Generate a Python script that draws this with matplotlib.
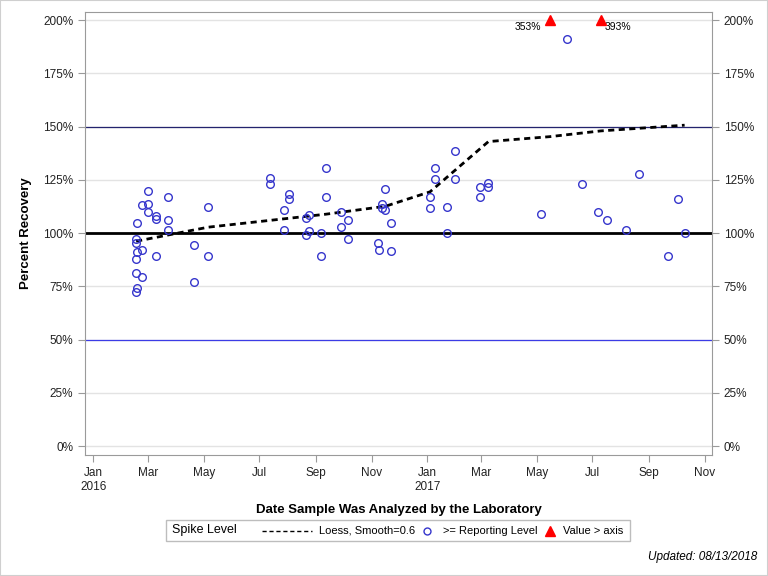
import matplotlib
matplotlib.use("Agg")
import matplotlib.pyplot as plt
import matplotlib.dates as mdates
from matplotlib.lines import Line2D
from matplotlib.patches import Rectangle
import numpy as np
import pandas as pd

plt.rcParams['font.family'] = ['Liberation Sans', 'DejaVu Sans']

# spike recoveries (date analyzed, percent)
sample_dates = [
    '2016-02-17', '2016-02-18', '2016-02-17', '2016-02-17', '2016-02-18', '2016-02-23',
    '2016-02-17', '2016-02-17', '2016-02-23', '2016-02-18', '2016-02-23', '2016-03-01',
    '2016-03-01', '2016-03-01', '2016-03-10', '2016-03-10', '2016-03-10', '2016-03-23',
    '2016-03-23', '2016-03-23', '2016-04-20', '2016-04-20', '2016-05-06', '2016-05-06',
    '2016-07-13', '2016-07-13', '2016-09-12', '2016-08-03', '2016-08-03', '2016-09-12',
    '2016-11-16', '2016-07-28', '2016-11-12', '2016-11-12', '2016-11-16', '2016-08-21',
    '2016-08-24', '2016-09-29', '2016-10-06', '2016-11-22', '2016-09-29', '2016-07-28',
    '2016-08-24', '2016-08-21', '2016-09-07', '2016-10-06', '2016-11-08', '2016-11-09',
    '2016-11-22', '2016-09-07',
    '2017-01-31', '2017-01-09', '2017-01-09', '2017-01-31', '2017-01-04', '2017-01-04',
    '2017-01-23', '2017-01-23', '2017-02-28', '2017-02-28', '2017-03-09', '2017-03-09',
    '2017-06-03', '2017-06-20', '2017-08-21', '2017-05-06', '2017-07-07', '2017-07-17',
    '2017-08-07', '2017-10-03', '2017-10-10', '2017-09-22',
]
recovery = [
    72.4, 74.2, 81.5, 87.7, 91.2, 92.0,
    95.2, 97.2, 79.3, 104.7, 113.1, 113.5,
    120.0, 109.7, 108.0, 106.7, 89.1, 117.2,
    106.4, 101.3, 94.2, 76.9, 112.5, 89.5,
    125.7, 122.9, 130.4, 118.3, 116.1, 116.8,
    120.5, 111.1, 113.5, 111.6, 110.7, 107.0,
    108.5, 109.7, 106.0, 104.6, 103.1, 101.3,
    100.9, 99.2, 100.3, 97.3, 95.6, 91.9,
    91.4, 89.5,
    138.4, 130.8, 125.2, 125.2, 116.8, 111.6,
    112.5, 99.9, 121.5, 116.8, 123.5, 121.5,
    191.4, 123.3, 127.6, 108.8, 109.7, 106.4,
    101.7, 115.8, 99.9, 89.3,
]

# values above the axis
over_dates = ['2017-05-15', '2017-07-10']
over_vals = [353, 393]

# loess smooth (smooth=0.6)
loess_dates = ['2016-02-17', '2016-05-06', '2016-09-12', '2016-11-16',
               '2017-01-04', '2017-03-09', '2017-05-15', '2017-07-10', '2017-10-10']
loess_vals = [96.2, 102.8, 108.9, 112.6, 119.4, 143.0, 145.3, 148.0, 150.7]

ref_levels = [100, 150, 50]
y_ticks = [0, 25, 50, 75, 100, 125, 150, 175, 200]

x_dates = pd.to_datetime(sample_dates)
o_dates = pd.to_datetime(over_dates)
l_dates = pd.to_datetime(loess_dates)

W, H = 768, 576
fig = plt.figure(figsize=(7.68, 5.76), dpi=100)
ax = fig.add_axes([0.1107, 0.210, 0.8164, 0.769])

for yt in y_ticks:
    ax.axhline(yt, color='#e3e3e3', lw=1, zorder=0)
ax.axhline(ref_levels[0], color='black', lw=2, zorder=1)
ax.axhline(ref_levels[1], color='#23236e', lw=0.9, zorder=1)
ax.axhline(ref_levels[2], color='#3c3ce6', lw=0.9, zorder=1)

ax.plot(l_dates, loess_vals, color='black', lw=2, ls=(0, (2.2, 1.6)), zorder=3)
ax.plot(x_dates, recovery, 'o', mfc='none', mec='#3636cc', mew=1, ms=5.5, zorder=4)
ax.plot(o_dates, [200] * len(o_dates), '^', color='red', ms=6.5, clip_on=False, zorder=5)
ax.annotate(f'{over_vals[0]}%', (o_dates[0], 200), xytext=(-6, -5), textcoords='offset points',
            ha='right', va='center', fontsize=7.5)
ax.annotate(f'{over_vals[1]}%', (o_dates[1], 200), xytext=(3, -5), textcoords='offset points',
            ha='left', va='center', fontsize=7.5)

ax.set_ylim(-4.2, 203.8)
ax.set_xlim(pd.Timestamp('2015-12-23'), pd.Timestamp('2017-11-09'))
ax.set_yticks(y_ticks)
ax.set_yticklabels([f'{v}%' for v in y_ticks])

ax.xaxis.set_major_locator(mdates.MonthLocator(bymonth=[1, 3, 5, 7, 9, 11]))

def month_fmt(x, pos=None):
    d = mdates.num2date(x)
    return d.strftime('%b\n%Y') if d.month == 1 else d.strftime('%b')

ax.xaxis.set_major_formatter(plt.FuncFormatter(month_fmt))

for s in ax.spines.values():
    s.set_color('#9a9a9a')
ax.tick_params(axis='both', color='#9a9a9a', length=5, labelsize=8.5, labelcolor='#222222')
ax.tick_params(axis='y', right=True, labelright=True)

ax.set_ylabel('Percent Recovery', fontsize=9.5, fontweight='bold', labelpad=8)
ax.set_xlabel('Date Sample Was Analyzed by the Laboratory', fontsize=9.5, fontweight='bold', labelpad=8)

# legend box, laid out by hand like the SAS one
ly = 1 - 530.5 / H
fig.patches.append(Rectangle((166 / W, 1 - 541 / H), 464 / W, 21 / H,
                             transform=fig.transFigure, fill=False, edgecolor='#bdbdbd', lw=1))
fig.text(172 / W, ly, 'Spike Level', fontsize=9, va='center', ha='left')
fig.add_artist(Line2D([262 / W, 312 / W], [ly, ly], transform=fig.transFigure,
                      color='black', lw=1, ls=(0, (3, 2))))
fig.text(319 / W, ly, 'Loess, Smooth=0.6', fontsize=8, va='center', ha='left')
fig.add_artist(Line2D([427 / W], [ly], transform=fig.transFigure, marker='o', ls='none',
                      mfc='none', mec='#3636cc', ms=5))
fig.text(443 / W, ly, '>= Reporting Level', fontsize=8, va='center', ha='left')
fig.add_artist(Line2D([550 / W], [ly], transform=fig.transFigure, marker='^', ls='none',
                      color='red', ms=7))
fig.text(563 / W, ly, 'Value > axis', fontsize=8, va='center', ha='left')

fig.text(757 / W, 1 - 557 / H, 'Updated: 08/13/2018', fontsize=8.5, style='italic',
         ha='right', va='center')

fig.patches.append(Rectangle((0, 0), 1, 1, transform=fig.transFigure, fill=False,
                             edgecolor='#cfcfcf', lw=1.5))

fig.savefig('out.png', dpi=100)
